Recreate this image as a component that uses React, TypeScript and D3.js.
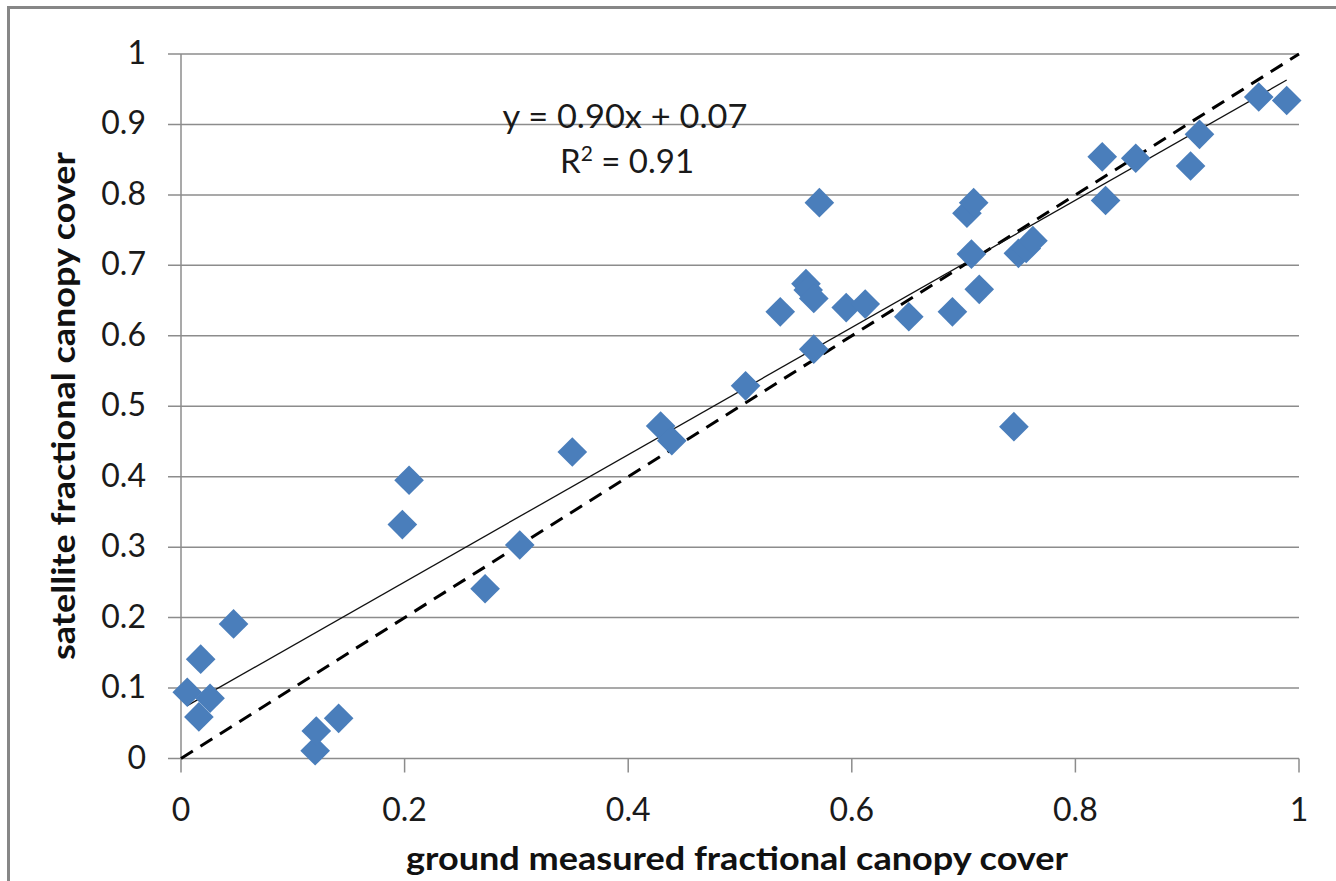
import React from "react";
import * as d3 from "d3";

// ground measured (x) vs satellite (y) fractional canopy cover
const groundFc: number[] = [
  0.0056, 0.0176, 0.016, 0.026, 0.047,
  0.120, 0.121, 0.141,
  0.198, 0.204, 0.272, 0.303, 0.350,
  0.429, 0.439, 0.505,
  0.536, 0.559, 0.561, 0.566, 0.566, 0.571,
  0.595, 0.612, 0.651, 0.690,
  0.703, 0.709, 0.707, 0.714, 0.745,
  0.749, 0.756, 0.762,
  0.824, 0.827, 0.854, 0.903, 0.911, 0.964, 0.989,
];
const satelliteFc: number[] = [
  0.094, 0.141, 0.059, 0.0855, 0.191,
  0.011, 0.039, 0.057,
  0.332, 0.395, 0.241, 0.303, 0.435,
  0.472, 0.451, 0.529,
  0.634, 0.674, 0.665, 0.653, 0.581, 0.789,
  0.640, 0.645, 0.627, 0.634,
  0.774, 0.789, 0.716, 0.666, 0.471,
  0.717, 0.724, 0.735,
  0.854, 0.792, 0.852, 0.841, 0.886, 0.939, 0.934,
];
const trendSlope = 0.903;
const trendIntercept = 0.070;
const yTicks: number[] = [0, 0.1, 0.2, 0.3, 0.4, 0.5, 0.6, 0.7, 0.8, 0.9, 1];
const xTicks: number[] = [0, 0.2, 0.4, 0.6, 0.8, 1];
const equationText = "y = 0.90x + 0.07";
const r2Value = "0.91";
const xTitle = "ground measured fractional canopy cover";
const yTitle = "satellite fractional canopy cover";

const W = 1336;
const H = 881;
const FONT = "Lato, 'Open Sans', sans-serif";

export default function App() {
  const x = d3.scaleLinear().domain([0, 1]).range([181, 1299]);
  const y = d3.scaleLinear().domain([0, 1]).range([758.5, 54]);
  const diamond = d3.symbol().type(d3.symbolSquare).size(440)();
  const pts = groundFc.map((g, i) => [g, satelliteFc[i]] as [number, number]);
  const xMin = d3.min(groundFc) as number;
  const xMax = d3.max(groundFc) as number;
  const line = d3.line<[number, number]>().x((d) => x(d[0])).y((d) => y(d[1]));
  const fmt = (v: number) => (v === 0 || v === 1 ? String(v) : String(+v.toFixed(1)));

  return (
    <svg
      width={W}
      height={H}
      style={{ position: "absolute", left: 0, top: 0, background: "#fff" }}
      fontFamily={FONT}
    >
      <rect x={0} y={0} width={W} height={H} fill="#fff" />
      <rect x={8.5} y={7.5} width={W + 100} height={H + 100} fill="none" stroke="#878787" strokeWidth={3} />
      {/* horizontal gridlines with left ticks */}
      {yTicks.map((t) => (
        <line key={"g" + t} x1={168} x2={x(1)} y1={y(t)} y2={y(t)} stroke="#8c8c8c" strokeWidth={1.5} />
      ))}
      {/* y axis */}
      <line x1={x(0)} x2={x(0)} y1={y(1)} y2={y(0)} stroke="#8c8c8c" strokeWidth={1.5} />
      {/* x ticks */}
      {xTicks.map((t) => (
        <line key={"xt" + t} x1={x(t)} x2={x(t)} y1={y(0)} y2={y(0) + 14} stroke="#8c8c8c" strokeWidth={1.5} />
      ))}
      {/* y tick labels */}
      {yTicks.map((t) => (
        <text key={"yl" + t} x={146} y={y(t) + 10} textAnchor="end" fontSize={32} fill="#1a1a1a">
          {fmt(t)}
        </text>
      ))}
      {/* x tick labels */}
      {xTicks.map((t) => (
        <text key={"xl" + t} x={x(t)} y={821} textAnchor="middle" fontSize={32} fill="#1a1a1a">
          {fmt(t)}
        </text>
      ))}
      {/* 1:1 line */}
      <path
        d={line([[0, 0], [1, 1]]) as string}
        stroke="#000"
        strokeWidth={3}
        strokeDasharray="14 9"
        fill="none"
      />
      {/* trendline */}
      <path
        d={line([[xMin, trendSlope * xMin + trendIntercept], [xMax, trendSlope * xMax + trendIntercept]]) as string}
        stroke="#111"
        strokeWidth={1.3}
        fill="none"
      />
      {/* points */}
      {pts.map((p, i) => (
        <path
          key={"p" + i}
          d={diamond as string}
          transform={`translate(${x(p[0])},${y(p[1])}) rotate(45)`}
          fill="#4a7ebb"
        />
      ))}
      {/* equation */}
      <text x={625} y={128} textAnchor="middle" fontSize={32} fill="#1a1a1a" textLength={245} lengthAdjust="spacingAndGlyphs">
        {equationText}
      </text>
      <text x={627} y={173} textAnchor="middle" fontSize={33} fill="#1a1a1a">
        R<tspan fontSize={21} dy={-12}>2</tspan>
        <tspan dy={12}>{" = " + r2Value}</tspan>
      </text>
      {/* axis titles */}
      <text
        x={737}
        y={870}
        textAnchor="middle"
        fontSize={33}
        fontWeight="bold"
        fill="#111"
        textLength={662}
        lengthAdjust="spacingAndGlyphs"
      >
        {xTitle}
      </text>
      <text
        transform={`translate(75,406) rotate(-90)`}
        textAnchor="middle"
        fontSize={33}
        fontWeight="bold"
        fill="#111"
        textLength={508}
        lengthAdjust="spacingAndGlyphs"
      >
        {yTitle}
      </text>
    </svg>
  );
}
